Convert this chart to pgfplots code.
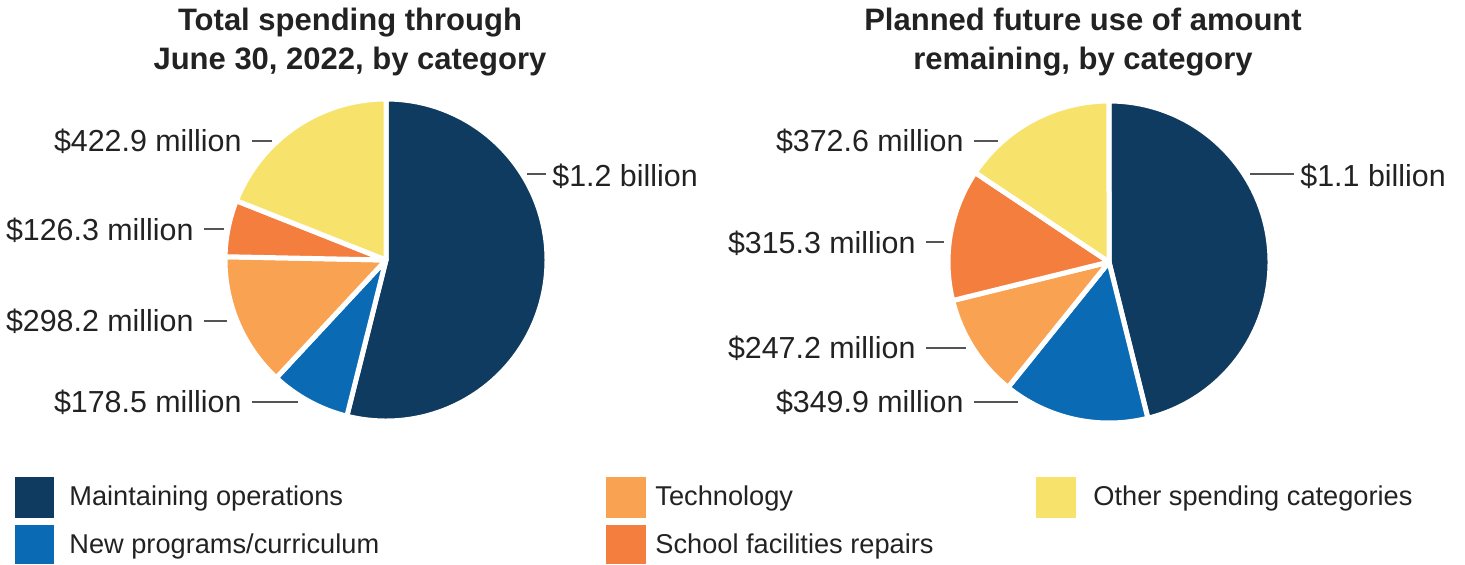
\documentclass[border=0pt]{standalone}
\usepackage{pgfplots}
\usepackage{pgfplotstable}
\pgfplotsset{compat=1.18}
\usepackage{fontspec}
\setmainfont{Liberation Sans}

\definecolor{opsnavy}{HTML}{0E3B5F}
\definecolor{progblue}{HTML}{0A6AB3}
\definecolor{techorange}{HTML}{F9A352}
\definecolor{repairorange}{HTML}{F47E3E}
\definecolor{otheryellow}{HTML}{F7E36C}
\definecolor{txt}{HTML}{222222}
\definecolor{leader}{HTML}{555555}

% spending through June 30, 2022 (millions)
\pgfplotstableread{
val col
1200 opsnavy
178.5 progblue
298.2 techorange
126.3 repairorange
422.9 otheryellow
}\spentdata

% planned use of remaining amount (millions)
\pgfplotstableread{
val col
1100 opsnavy
349.9 progblue
247.2 techorange
315.3 repairorange
372.6 otheryellow
}\plandata

\def\pierad{80.5pt}

% slices clockwise from 12 o'clock
\newcommand\drawpie[3]{%
  \pgfplotstablegetrowsof{#1}%
  \pgfmathtruncatemacro\nrows{\pgfplotsretval-1}%
  \def\total{0}%
  \pgfplotsforeachungrouped \i in {0,...,\nrows}{%
    \pgfplotstablegetelem{\i}{val}\of{#1}%
    \pgfmathsetmacro\total{\total+\pgfplotsretval}}%
  \def\angA{90}%
  \pgfplotsforeachungrouped \i in {0,...,\nrows}{%
    \pgfplotstablegetelem{\i}{val}\of{#1}\let\sliceval\pgfplotsretval
    \pgfplotstablegetelem{\i}{col}\of{#1}\let\slicecol\pgfplotsretval
    \pgfmathsetmacro\angB{\angA-360*(\sliceval/\total)}%
    \fill[fill=\slicecol, draw=white, line width=2.5pt, line join=round]
      (axis cs:#2,#3) -- ++(\angA:\pierad)
      arc[start angle=\angA, end angle=\angB, radius=\pierad] -- cycle;
    \global\let\angA\angB}%
}

\begin{document}
\begin{tikzpicture}
\begin{axis}[
  hide axis, clip=false,
  x=0.5pt, y=0.5pt, y dir=reverse,
  xmin=0, xmax=1465, ymin=0, ymax=564,
]
\path (axis cs:0,0) rectangle (axis cs:1465,564);

\pgfplotsextra{\drawpie{\spentdata}{386}{260}}
\pgfplotsextra{\drawpie{\plandata}{1109}{262}}

% titles
\node[font=\fontsize{15.5}{19.5}\selectfont\bfseries, text=txt, align=center]
  at (axis cs:350,42) {Total spending through\\June 30, 2022, by category};
\node[font=\fontsize{15.5}{19.5}\selectfont\bfseries, text=txt, align=center]
  at (axis cs:1083,42) {Planned future use of amount\\remaining, by category};

% value labels, left pie
\begin{scope}[every node/.style={font=\fontsize{15.2}{18}\selectfont, text=txt, inner sep=0pt}]
\node[anchor=east] at (axis cs:242,141) {\$422.9 million};
\node[anchor=east] at (axis cs:194,230) {\$126.3 million};
\node[anchor=east] at (axis cs:194,321) {\$298.2 million};
\node[anchor=east] at (axis cs:242,402) {\$178.5 million};
\node[anchor=west] at (axis cs:552,176) {\$1.2 billion};
% right pie
\node[anchor=east] at (axis cs:964,141) {\$372.6 million};
\node[anchor=east] at (axis cs:916,243) {\$315.3 million};
\node[anchor=east] at (axis cs:916,348) {\$247.2 million};
\node[anchor=east] at (axis cs:964,402) {\$349.9 million};
\node[anchor=west] at (axis cs:1300,176) {\$1.1 billion};
\end{scope}

\begin{scope}[leader, line width=1.2pt]
\draw (axis cs:252,141) -- (axis cs:272,141);
\draw (axis cs:204,229) -- (axis cs:224,229);
\draw (axis cs:204,321) -- (axis cs:227,321);
\draw (axis cs:252,402) -- (axis cs:298,402);
\draw (axis cs:527,174) -- (axis cs:546,174);
\draw (axis cs:974,141) -- (axis cs:998,141);
\draw (axis cs:926,242) -- (axis cs:944,242);
\draw (axis cs:926,348) -- (axis cs:966,348);
\draw (axis cs:974,402) -- (axis cs:1018,402);
\draw (axis cs:1250,174) -- (axis cs:1294,174);
\end{scope}

% legend
\fill[opsnavy] (axis cs:15,477) rectangle (axis cs:54,518);
\fill[progblue] (axis cs:15,525) rectangle (axis cs:54,564);
\fill[techorange] (axis cs:606,477) rectangle (axis cs:646,518);
\fill[repairorange] (axis cs:606,525) rectangle (axis cs:646,564);
\fill[otheryellow] (axis cs:1036,477) rectangle (axis cs:1076,518);
\begin{scope}[every node/.style={font=\fontsize{13.6}{16}\selectfont, text=txt, inner sep=0pt, anchor=west}]
\node at (axis cs:69,498) {Maintaining operations};
\node at (axis cs:69,546) {New programs/curriculum};
\node at (axis cs:655,498) {Technology};
\node at (axis cs:655,546) {School facilities repairs};
\node at (axis cs:1093,498) {Other spending categories};
\end{scope}
\end{axis}
\end{tikzpicture}
\end{document}
